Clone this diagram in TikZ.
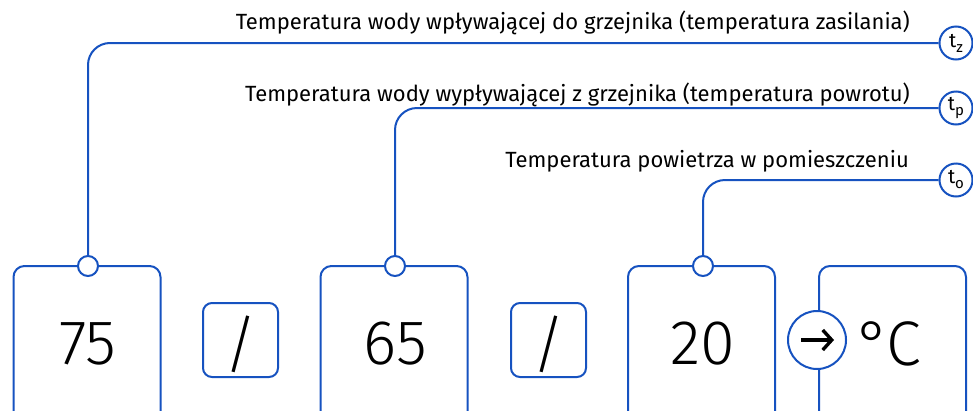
\documentclass[tikz,border=0pt]{standalone}
\usepackage{fontspec}
\setmainfont{Fira Sans}
\newfontfamily\numfont{Fira Sans Light}
\usetikzlibrary{arrows.meta}
\definecolor{lineblue}{RGB}{22,82,192}
\newcommand{\tsub}[1]{t\raisebox{-0.25em}{\fontsize{15}{15}\selectfont #1}}
\tikzset{
  bigbox/.style={draw=lineblue, line width=2pt, rounded corners=11pt, minimum width=147pt, minimum height=170pt, inner sep=0pt},
  slashbox/.style={draw=lineblue, line width=2pt, rounded corners=9pt, minimum width=75pt, minimum height=74pt, inner sep=0pt},
  pin/.style={circle, draw=lineblue, fill=white, line width=2pt, minimum size=20pt, inner sep=0pt},
  tag/.style={circle, draw=lineblue, fill=white, line width=2pt, minimum size=33pt, inner sep=0pt, font=\fontsize{20}{20}\selectfont},
  num/.style={font=\numfont\fontsize{63}{63}\selectfont, inner sep=0pt},
  lbl/.style={font=\fontsize{22}{22}\selectfont, inner sep=0pt, anchor=east},
  leader/.style={draw=lineblue, line width=2pt, rounded corners=22pt},
}
\begin{document}
\begin{tikzpicture}[x=1pt, y=-1pt]
\useasboundingbox (0,0) rectangle (973,410);
\clip (0,0) rectangle (973,410);
% boxes
\node[bigbox] (b1) at (87,351) {};
\node[bigbox] (b2) at (394,351) {};
\node[bigbox] (b3) at (701.5,351) {};
\node[bigbox] (b4) at (892.5,351) {};
\node[slashbox] (s1) at (240.5,340) {};
\node[slashbox] (s2) at (548.5,340) {};
% texts in boxes
\node[num] (n1) at (88,344) {75};
\node[num] (n2) at (395,344) {65};
\node[num] (n3) at (703,344) {20};
\node[num] (n4) at (889,344) {°\kern-0.06em C};
\node[num] (d1) at (240.5,344) {/};
\node[num] (d2) at (548.5,344) {/};
% pins
\node[pin] (p1) at (88,266) {};
\node[pin] (p2) at (395,266) {};
\node[pin] (p3) at (703,266) {};
% tags
\node[tag] (tz) at (956,43) {\tsub{z}};
\node[tag] (tp) at (956,108) {\tsub{p}};
\node[tag] (to) at (956,180) {\tsub{o}};
% leaders
\draw[leader] (p1.north) |- (tz.west);
\draw[leader] (p2.north) |- (tp.west);
\draw[leader] (p3.north) |- (to.west);
% labels
\node[lbl] (l1) at (910,23) {Temperatura wody wpływającej do grzejnika (temperatura zasilania)};
\node[lbl] (l2) at (910,95) {Temperatura wody wypływającej z grzejnika (temperatura powrotu)};
\node[lbl] (l3) at (909,161) {Temperatura powietrza w pomieszczeniu};
% arrow circle
\node[circle, draw=lineblue, fill=white, line width=2pt, minimum size=58pt, inner sep=0pt] (ac) at (817,340) {};
\coordinate (a1) at (801,340);
\coordinate (a2) at (834,340);
\draw[line width=3.4pt, -{Straight Barb[length=9pt, width=20pt, line width=3.4pt]}] (a1) -- (a2);
\end{tikzpicture}
\end{document}
